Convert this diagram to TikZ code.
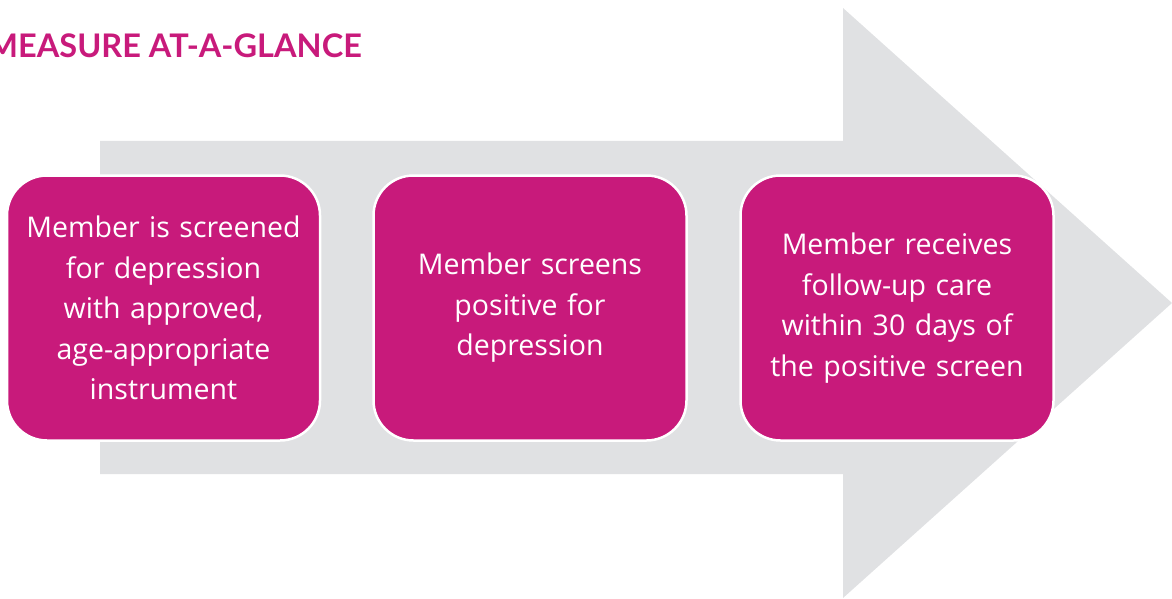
\documentclass[tikz,border=0pt]{standalone}
\usepackage{fontspec}
\setmainfont{Lato}
\newfontfamily\boxfont{Open Sans}
\definecolor{pinkM}{HTML}{C81A7B}
\definecolor{grayA}{HTML}{E0E1E3}
\tikzset{
  stepbox/.style={draw=white, line width=2.5pt, fill=pinkM, rounded corners=40pt,
    minimum width=313pt, minimum height=265pt, text width=305pt, align=center,
    text=white, font=\boxfont\fontsize{28.5}{40.5}\selectfont, inner sep=0pt},
  title/.style={text=pinkM, font=\bfseries\fontsize{32.5}{38}\selectfont, inner sep=0pt, anchor=base east}
}
\begin{document}
\begin{tikzpicture}[x=1pt,y=-1pt]
\useasboundingbox (0,0) rectangle (1172,599);
\clip (0,0) rectangle (1172,599);
\fill[grayA] (100,141) -- (843,141) -- (843,8) -- (1172,303) -- (843,598) -- (843,474) -- (100,474) -- cycle;
\node[title] (t) at (362,58) {MEASURE AT-A-GLANCE};
\node[stepbox] (b1) at (163.5,308) {Member is screened\\for depression\\with approved,\\age-appropriate\\instrument};
\node[stepbox] (b2) at (530,308) {Member screens\\positive for\\depression};
\node[stepbox] (b3) at (897,308) {Member receives\\follow-up care\\within 30 days of\\the positive screen};
\end{tikzpicture}
\end{document}
